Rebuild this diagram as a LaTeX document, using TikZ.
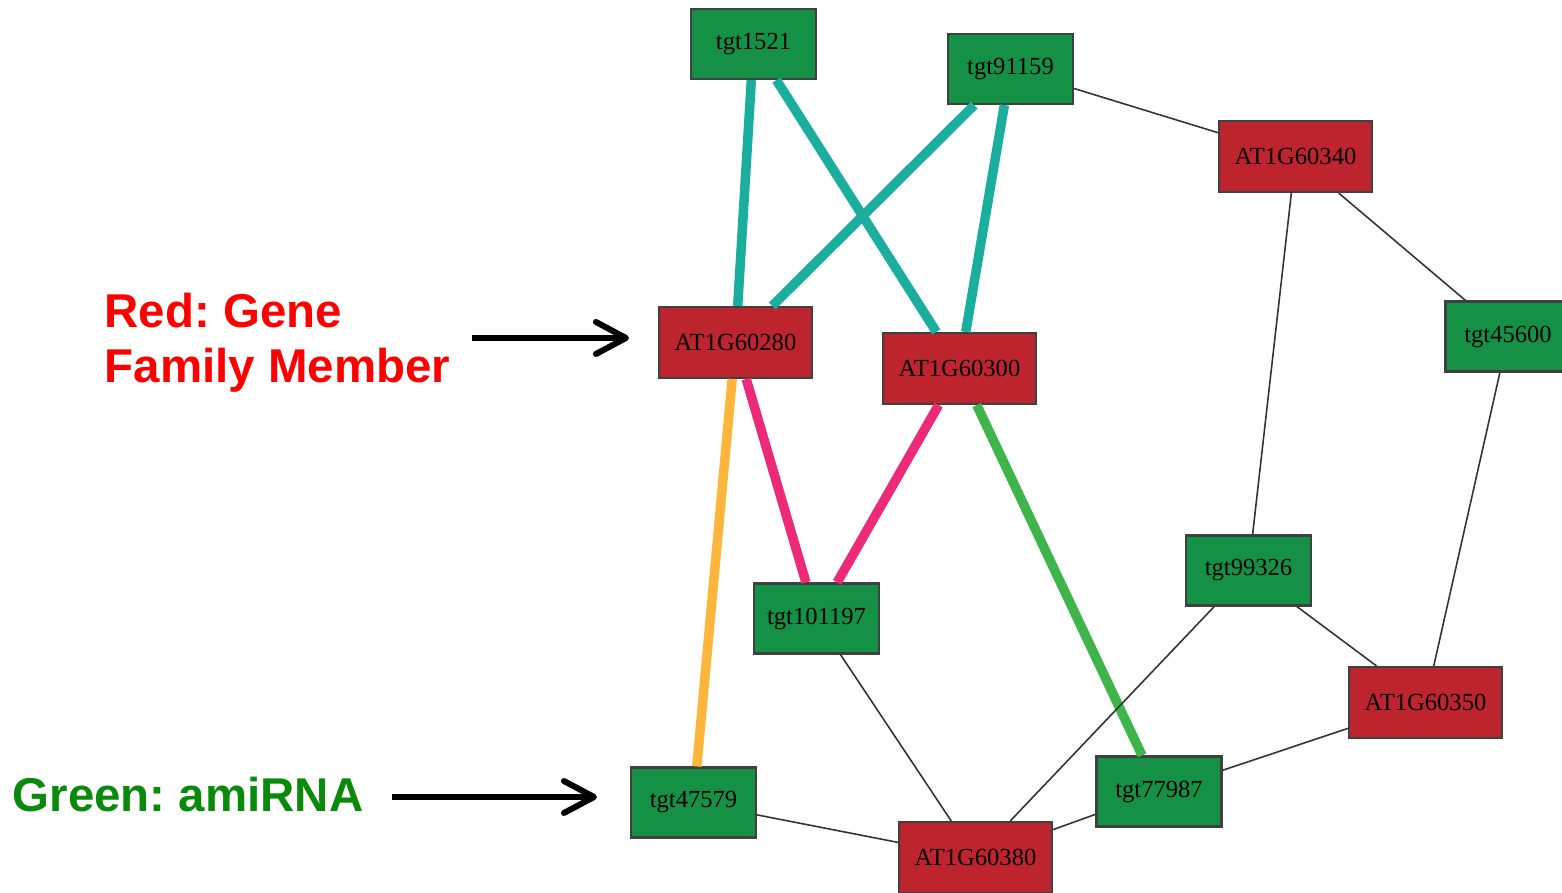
\documentclass[tikz,border=0pt]{standalone}
\usepackage{fontspec}
\setmainfont{Liberation Serif}
\newfontfamily\labelfont{Liberation Sans}
\usepackage{xcolor}
\usepackage{tikz}
\usetikzlibrary{arrows.meta, positioning, calc}
\frenchspacing

\definecolor{mirgreen}{HTML}{149144}
\definecolor{genered}{HTML}{BE242E}
\definecolor{tealedge}{HTML}{1AAE9F}
\definecolor{pinkedge}{HTML}{EC2A78}
\definecolor{orangeedge}{HTML}{FDB53C}
\definecolor{greenedge}{HTML}{3DB54A}
\definecolor{lblred}{HTML}{FF0000}
\definecolor{lblgreen}{HTML}{0A8A0A}

\tikzstyle{mirna} = [draw=black!75, line width=0.6pt, fill=mirgreen, minimum width=1.25cm, minimum height=0.70cm, inner sep=0pt, font=\fontsize{7}{8}\selectfont]
\tikzstyle{gene} = [mirna, fill=genered, minimum width=1.53cm, minimum height=0.71cm]
\tikzstyle{thinlink} = [line width=0.45pt, black!80]
\tikzstyle{teallink} = [line width=2.7pt, tealedge]
\tikzstyle{pinklink} = [line width=2.7pt, pinkedge]
\tikzstyle{orangelink} = [line width=2.7pt, orangeedge]
\tikzstyle{greenlink} = [line width=2.7pt, greenedge]
\tikzstyle{pointer} = [line width=1.7pt, black, -{Straight Barb[round, length=0.3cm, width=0.32cm]}]

\begin{document}
\begin{tikzpicture}
\useasboundingbox (0,0) rectangle (15.62,8.92);

% Nodes
\node[mirna] (tgt1521) at (7.535,8.48) {tgt1521};
\node[mirna] (tgt91159) at (10.105,8.23) {tgt91159};
\node[gene] (AT1G60340) at (12.955,7.355) {AT1G60340};
\node[gene] (AT1G60280) at (7.355,5.495) {AT1G60280};
\node[gene] (AT1G60300) at (9.595,5.235) {AT1G60300};
\node[mirna] (tgt45600) at (15.08,5.555) {tgt45600};
\node[mirna] (tgt99326) at (12.485,3.215) {tgt99326};
\node[mirna] (tgt101197) at (8.165,2.735) {tgt101197};
\node[gene] (AT1G60350) at (14.255,1.895) {AT1G60350};
\node[mirna] (tgt47579) at (6.935,0.895) {tgt47579};
\node[mirna] (tgt77987) at (11.59,1.005) {tgt77987};
\node[gene] (AT1G60380) at (9.755,0.345) {AT1G60380};

% Thick edges
\draw[teallink] (tgt1521) -- (AT1G60280);
\draw[teallink] (tgt1521) -- (AT1G60300);
\draw[teallink] (tgt91159) -- (AT1G60280);
\draw[teallink] (tgt91159) -- (AT1G60300);
\draw[orangelink] (AT1G60280) -- (tgt47579);
\draw[pinklink] (AT1G60280) -- (tgt101197);
\draw[pinklink] (AT1G60300) -- (tgt101197);
\draw[greenlink] (AT1G60300) -- (tgt77987);

% Thin edges
\draw[thinlink] (tgt91159) -- (AT1G60340);
\draw[thinlink] (AT1G60340) -- (tgt45600);
\draw[thinlink] (AT1G60340) -- (tgt99326);
\draw[thinlink] (tgt45600) -- (AT1G60350);
\draw[thinlink] (tgt99326) -- (AT1G60350);
\draw[thinlink] (tgt99326) -- (AT1G60380);
\draw[thinlink] (tgt101197) -- (AT1G60380);
\draw[thinlink] (tgt47579) -- (AT1G60380);
\draw[thinlink] (tgt77987) -- (AT1G60380);
\draw[thinlink] (tgt77987) -- (AT1G60350);

% Legend
\node[anchor=north west, inner sep=0pt, align=left, text=lblred, font=\labelfont\bfseries\fontsize{13.5}{15.9}\selectfont] (redlbl) at (1.04,6.00) {Red: Gene\\Family Member};
\node[anchor=base west, inner sep=0pt, text=lblgreen, font=\labelfont\bfseries\fontsize{13.5}{15.9}\selectfont] (greenlbl) at (0.12,0.80) {Green: amiRNA};

\coordinate (redtail) at (4.72,5.54);
\coordinate (greentail) at (3.92,0.95);
\draw[pointer, shorten >=0.29cm] (redtail) -- (redtail -| AT1G60280.west);
\draw[pointer, shorten >=0.33cm] (greentail) -- (greentail -| tgt47579.west);
\end{tikzpicture}
\end{document}
